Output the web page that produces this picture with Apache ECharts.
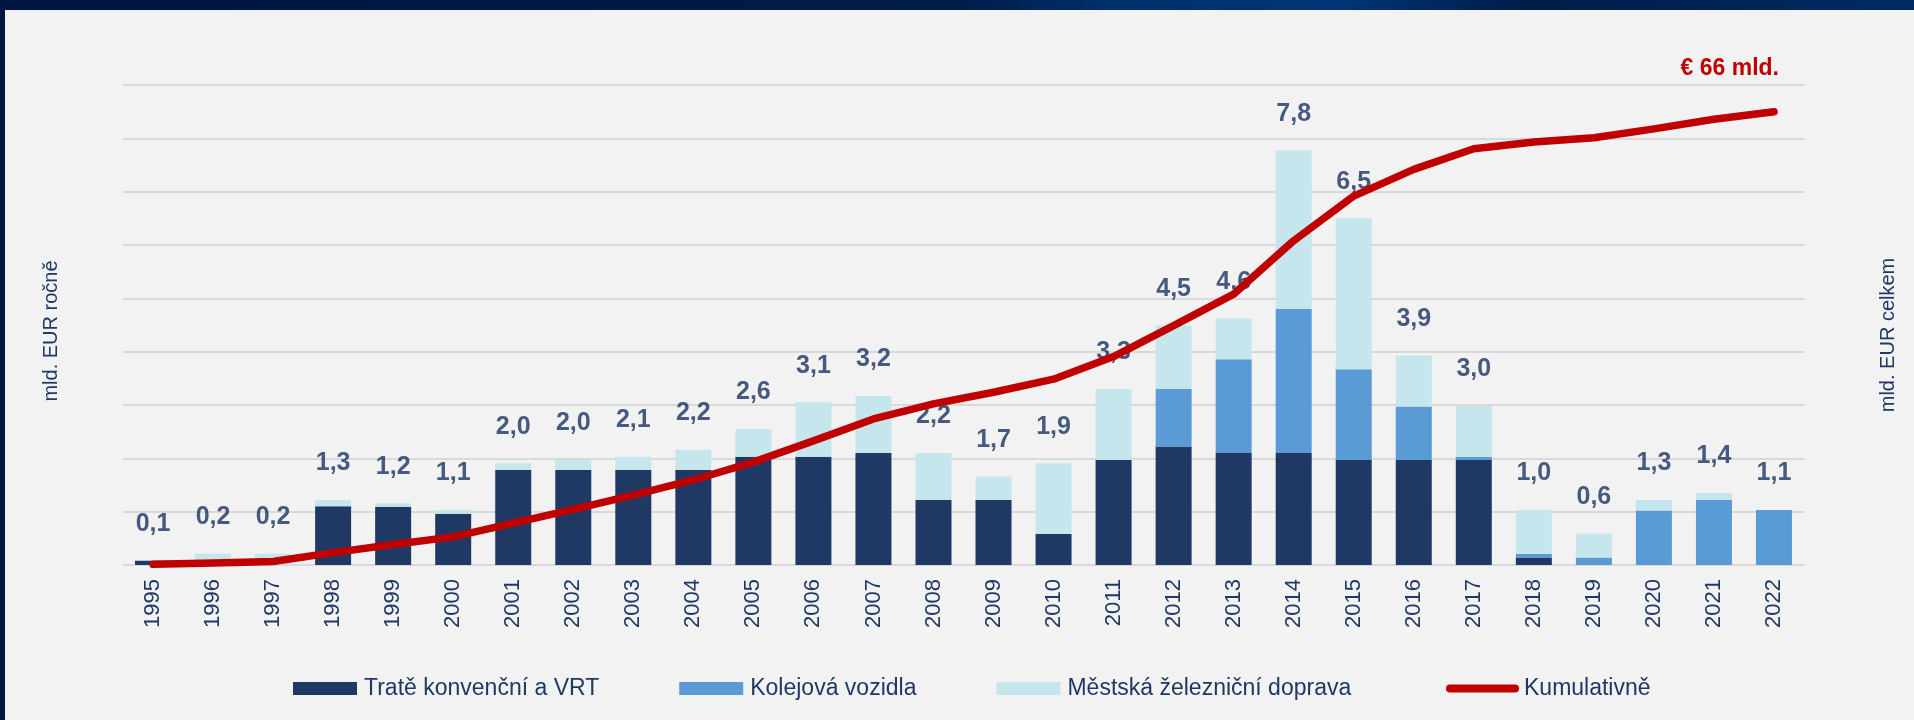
<!DOCTYPE html>
<html>
<head>
<meta charset="utf-8">
<title>Investice do železnice</title>
<script src="https://cdn.jsdelivr.net/npm/echarts@6/dist/echarts.min.js"></script>
<style>
	html, body {
		margin: 0;
		padding: 0;
		background: #f2f2f2;
	}
	#chart {
		width: 1914px;
		height: 720px;
	}
</style>
</head>
<body>
<div id="chart"></div>
<script>
	// roky
	var years = ['1995', '1996', '1997', '1998', '1999', '2000', '2001', '2002', '2003', '2004',
		'2005', '2006', '2007', '2008', '2009', '2010', '2011', '2012', '2013', '2014',
		'2015', '2016', '2017', '2018', '2019', '2020', '2021', '2022'];

	// mld. EUR ročně
	var trate = [0.08, 0, 0, 1.10, 1.09, 0.96, 1.78, 1.78, 1.78, 1.78,
		2.03, 2.03, 2.10, 1.22, 1.22, 0.58, 1.97, 2.22, 2.10, 2.10,
		1.97, 1.97, 1.97, 0.14, 0, 0, 0, 0];
	var vozidla = [0, 0, 0, 0, 0, 0, 0, 0, 0, 0,
		0, 0, 0, 0, 0, 0, 0, 1.08, 1.76, 2.70,
		1.70, 1.00, 0.06, 0.07, 0.14, 1.02, 1.22, 1.03];
	var mestska = [0, 0.21, 0.21, 0.12, 0.07, 0.07, 0.13, 0.19, 0.25, 0.38,
		0.52, 1.02, 1.07, 0.88, 0.44, 1.33, 1.33, 1.19, 0.76, 2.97,
		2.83, 0.96, 0.95, 0.82, 0.45, 0.20, 0.13, 0];

	// popisky nad sloupci
	var totals = [0.1, 0.2, 0.2, 1.3, 1.2, 1.1, 2.0, 2.0, 2.1, 2.2,
		2.6, 3.1, 3.2, 2.2, 1.7, 1.9, 3.3, 4.5, 4.6, 7.8,
		6.5, 3.9, 3.0, 1.0, 0.6, 1.3, 1.4, 1.1];

	// mld. EUR celkem
	var kumulativne = [0.1, 0.3, 0.5, 1.8, 3.0, 4.1, 6.1, 8.1, 10.2, 12.4,
		15.0, 18.1, 21.3, 23.5, 25.2, 27.1, 30.4, 34.9, 39.5, 47.3,
		53.8, 57.7, 60.7, 61.7, 62.3, 63.6, 65.0, 66.1];

	var navy = '#1f3864';
	var font = "'Liberation Sans', Arial, sans-serif";

	// vrchol sloupce = soucet tri casti, na nej se veze popisek
	var tops = years.map(function (y, i) {
		return trate[i] + vozidla[i] + mestska[i];
	});

	var chart = echarts.init(document.getElementById('chart'), null, { renderer: 'canvas' });

	var option = {
		backgroundColor: '#f2f2f2',
		animation: false,
		textStyle: { fontFamily: font },
		grid: {
			left: 123,
			right: 110,
			top: 85,
			bottom: 155
		},
		legend: [
			{
				left: 288,
				top: 672,
				itemWidth: 64,
				itemHeight: 13,
				itemGap: 80,
				icon: 'rect',
				data: ['Tratě konvenční a VRT', 'Kolejová vozidla', 'Městská železniční doprava'],
				textStyle: { color: navy, fontSize: 23, fontFamily: font, padding: [0, 0, 0, 2] }
			},
			{
				left: 1441,
				top: 672,
				itemWidth: 73,
				itemHeight: 8,
				data: [{
					name: 'Kumulativně',
					// cara se zakulacenymi konci
					icon: 'path://M4,0 L69,0 A4,4 0 0 1 69,8 L4,8 A4,4 0 0 1 4,0 Z'
				}],
				itemStyle: { color: '#c00000' },
				textStyle: { color: navy, fontSize: 23, fontFamily: font }
			}
		],
		xAxis: {
			type: 'category',
			data: years,
			axisLine: { show: false },
			axisTick: { show: false },
			axisLabel: {
				rotate: 90,
				margin: 14,
				color: navy,
				fontSize: 22,
				fontFamily: font
			}
		},
		yAxis: [
			{
				type: 'value',
				min: 0,
				max: 9,
				interval: 1,
				axisLabel: { show: false },
				axisLine: { show: false },
				axisTick: { show: false },
				splitLine: { lineStyle: { color: '#d9d9d9', width: 2 } }
			},
			{
				type: 'value',
				min: 0,
				max: 70,
				axisLabel: { show: false },
				axisLine: { show: false },
				axisTick: { show: false },
				splitLine: { show: false }
			}
		],
		series: [
			{
				name: 'Tratě konvenční a VRT',
				type: 'bar',
				stack: 'rocne',
				barWidth: 36,
				itemStyle: { color: '#203864' },
				data: trate
			},
			{
				name: 'Kolejová vozidla',
				type: 'bar',
				stack: 'rocne',
				itemStyle: { color: '#5b9bd5' },
				data: vozidla
			},
			{
				name: 'Městská železniční doprava',
				type: 'bar',
				stack: 'rocne',
				itemStyle: { color: '#c5e6ec' },
				data: mestska
			},
			{
				// jen popisky nad sloupci
				name: 'soucet',
				type: 'scatter',
				symbolSize: 0,
				silent: true,
				z: 2,
				data: tops,
				label: {
					show: true,
					position: 'top',
					distance: 24,
					color: '#1a3260',
					fontSize: 25,
					fontWeight: 'bold',
					fontFamily: font,
					formatter: function (p) {
						return totals[p.dataIndex].toFixed(1).replace('.', ',');
					}
				}
			},
			{
				name: 'Kumulativně',
				type: 'line',
				yAxisIndex: 1,
				symbol: 'none',
				z: 5,
				lineStyle: { color: '#c00000', width: 7.5, cap: 'round', join: 'round' },
				itemStyle: { color: '#c00000' },
				data: kumulativne
			}
		],
		graphic: [
			// tmavy ramecek slidu
			{
				type: 'rect',
				shape: { x: 0, y: 0, width: 1914, height: 10 },
				style: {
					fill: new echarts.graphic.LinearGradient(0, 0, 1, 0, [
						{ offset: 0, color: '#001540' },
						{ offset: 0.5, color: '#001c48' },
						{ offset: 0.58, color: '#00306c' },
						{ offset: 0.7, color: '#003575' },
						{ offset: 0.8, color: '#001c48' },
						{ offset: 1, color: '#002b62' }
					])
				},
				z: 100
			},
			{
				type: 'rect',
				shape: { x: 0, y: 0, width: 5, height: 720 },
				style: { fill: '#001540' },
				z: 100
			},
			{
				type: 'text',
				x: 51,
				y: 331,
				rotation: Math.PI / 2,
				style: {
					text: 'mld. EUR ročně',
					fill: navy,
					fontSize: 20,
					fontFamily: font,
					align: 'center',
					verticalAlign: 'middle'
				}
			},
			{
				type: 'text',
				x: 1888,
				y: 335,
				rotation: Math.PI / 2,
				style: {
					text: 'mld. EUR celkem',
					fill: navy,
					fontSize: 20,
					fontFamily: font,
					align: 'center',
					verticalAlign: 'middle'
				}
			},
			{
				type: 'text',
				x: 1779,
				y: 69,
				style: {
					text: '€ 66 mld.',
					fill: '#c00000',
					fontSize: 23,
					fontWeight: 'bold',
					fontFamily: font,
					align: 'right',
					verticalAlign: 'middle'
				}
			}
		]
	};

	chart.setOption(option);
</script>
</body>
</html>
